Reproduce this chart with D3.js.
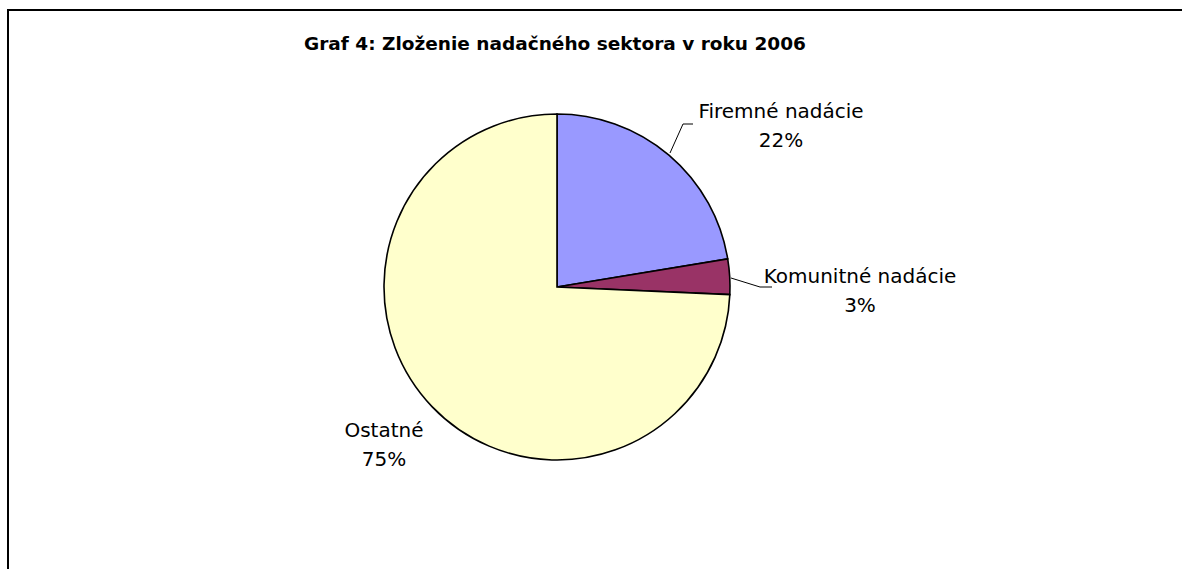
<!DOCTYPE html>
<html>
  <head>
    <meta charset="utf-8">
    <title>Graf 4</title>
    <script src="https://d3js.org/d3.v7.min.js"></script>
    <style>
      body { margin: 0; background: #fff; }
      text { font-family: "DejaVu Sans", Verdana, sans-serif; fill: #000; }
    </style>
  </head>
  <body>
    <script>
      let categories = ['Firemné nadácie', 'Komunitné nadácie', 'Ostatné']
      let values = [22.4, 3.3, 74.3]
      let pctLabels = ['22%', '3%', '75%']
      let colors = ['#9999ff', '#993366', '#ffffcc']

      let width = 1182, height = 569
      let cx = 557, cy = 287, radius = 173

      let svg = d3.select('body').append('svg')
                  .attr('width', width)
                  .attr('height', height)

      // chart frame, right and bottom edges run off the picture
      svg.append('rect')
         .attr('x', 8).attr('y', 10)
         .attr('width', width).attr('height', height)
         .attr('fill', 'none')
         .attr('stroke', '#000')
         .attr('stroke-width', 2)

      svg.append('text')
         .attr('x', 555).attr('y', 50)
         .attr('text-anchor', 'middle')
         .style('font-size', '18.5px')
         .style('font-weight', 'bold')
         .text('Graf 4: Zloženie nadačného sektora v roku 2006')

      let pie = d3.pie().sort(null).value(d => d)
      let arc = d3.arc().innerRadius(0).outerRadius(radius)
      let arcs = pie(values)

      let g = svg.append('g').attr('transform', `translate(${cx}, ${cy})`)

      g.selectAll('path').data(arcs)
       .enter().append('path')
       .attr('d', arc)
       .attr('fill', (d, i) => colors[i])
       .attr('stroke', '#000')
       .attr('stroke-width', 1.6)

      // label placement per slice (relative to pie centre)
      let labelPos = [
        {x: 224, y: -169},
        {x: 303, y: -4},
        {x: -173, y: 150}
      ]
      let leaders = [
        [[113, -134], [126, -163], [136, -163]],
        [[174, -9], [203, 0], [215, 0]],
        null
      ]

      let line = d3.line()
      leaders.forEach(pts => {
        if (!pts) return
        g.append('path')
         .attr('d', line(pts))
         .attr('fill', 'none')
         .attr('stroke', '#000')
         .attr('stroke-width', 1)
      })

      arcs.forEach((d, i) => {
        let t = g.append('text')
                 .attr('text-anchor', 'middle')
                 .attr('transform', `translate(${labelPos[i].x}, ${labelPos[i].y})`)
                 .style('font-size', '20px')
        t.append('tspan').attr('x', 0).attr('y', 0).text(categories[i])
        t.append('tspan').attr('x', 0).attr('y', 29).text(pctLabels[i])
      })
    </script>
  </body>
</html>
